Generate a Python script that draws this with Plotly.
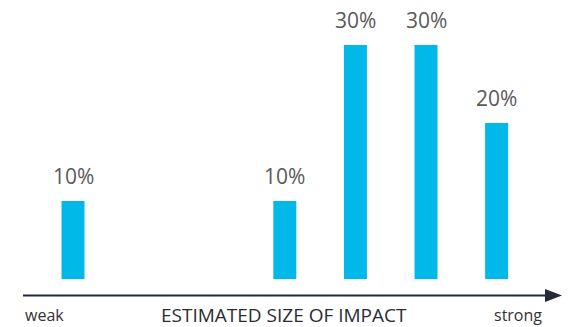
import plotly.graph_objects as go

levels = ["level A", "level B", "level C", "level D", "level E", "level F", "level G"]
shares = [10, 0, 0, 10, 30, 30, 20]
value_labels = ["10%", "", "", "10%", "30%", "30%", "20%"]
axis_title = "ESTIMATED SIZE OF IMPACT"
low_label = "weak"
high_label = "strong"

W, H = 569, 327
PLOT_H = 279

def py(p):
    return (PLOT_H - p) / PLOT_H

def px(p):
    return p / W

fig = go.Figure()
fig.add_trace(go.Bar(x=levels, y=shares, marker_color="#00B9E8",
                     marker_line_width=0, hoverinfo="skip"))

annotations = []
for lv, v, t in zip(levels, shares, value_labels):
    if v > 0:
        annotations.append(dict(x=lv, y=v, xref="x", yref="y", text=t,
                                showarrow=False, yanchor="bottom", yshift=9,
                                font=dict(family="Open Sans", size=21, color="#5a5a5a")))

annotations += [
    dict(x=px(23), y=py(327), xref="paper", yref="paper", text=low_label,
         showarrow=False, xanchor="left", yanchor="bottom", yshift=-1,
         font=dict(family="Open Sans", size=16, color="#333333")),
    dict(x=px(544), y=py(327), xref="paper", yref="paper", text=high_label,
         showarrow=False, xanchor="right", yanchor="bottom", yshift=-1,
         font=dict(family="Open Sans", size=16, color="#333333")),
    dict(x=px(284), y=py(327), xref="paper", yref="paper", text=axis_title,
         showarrow=False, xanchor="center", yanchor="bottom", yshift=-3,
         font=dict(family="Open Sans", size=19, color="#2b2b33")),
]

shapes = [
    dict(type="line", xref="paper", yref="paper", x0=px(23), x1=px(548),
         y0=py(295.5), y1=py(295.5), line=dict(color="#23283a", width=2)),
    dict(type="path", xref="paper", yref="paper",
         path=f"M {px(545)} {py(289)} L {px(562)} {py(295.5)} L {px(545)} {py(302)} Z",
         fillcolor="#23283a", line=dict(width=0)),
]

fig.update_layout(
    width=W, height=H,
    margin=dict(l=0, r=0, t=0, b=H - PLOT_H),
    paper_bgcolor="white", plot_bgcolor="white",
    showlegend=False, bargap=0.674,
    xaxis=dict(type="category", categoryorder="array", categoryarray=levels,
               range=[-1.034, 7.025], showticklabels=False,
               showgrid=False, zeroline=False, showline=False, ticks=""),
    yaxis=dict(range=[0, PLOT_H / 7.8], showticklabels=False, showgrid=False,
               zeroline=False, showline=False, ticks=""),
    annotations=annotations, shapes=shapes,
)

fig.write_html("out.html")
